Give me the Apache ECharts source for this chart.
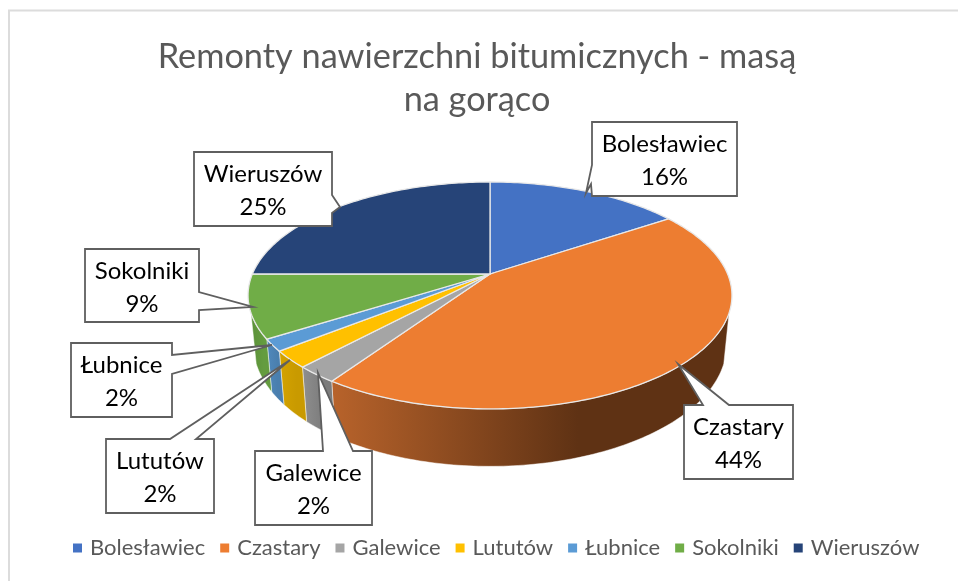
<!DOCTYPE html>
<html>
<head>
<meta charset="utf-8">
<style>
  html, body { margin: 0; padding: 0; background: #fff; }
  #main { width: 958px; height: 581px; }
</style>
<script src="https://cdn.jsdelivr.net/npm/echarts@6/dist/echarts.min.js"></script>
</head>
<body>
<div id="main"></div>
<script>
var titleText = 'Remonty nawierzchni bitumicznych - masą\nna gorąco';
var categories = ['Bolesławiec', 'Czastary', 'Galewice', 'Lututów', 'Łubnice', 'Sokolniki', 'Wieruszów'];
var values = [15.6, 43.9, 2.4, 2.4, 1.7, 9.0, 25.0];
var topColors = ['#4472C4', '#ED7D31', '#A5A5A5', '#FFC000', '#5B9BD5', '#70AD47', '#264478'];
var wallColors = [
  ['#3a5fa5', '#3a5fa5'],
  ['#b8632b', '#5f3214'],
  ['#8f8f8f', '#7c7c7c'],
  ['#d4a300', '#c99a00'],
  ['#5089bd', '#4a7fae'],
  ['#5b9139', '#649c3f'],
  ['#1f3a66', '#1f3a66']
];

// callout boxes: box [x0, y0, x1, y1], wedge base a, tip, wedge base b
var callouts = [
  { box: [592, 122, 737, 196], a: [592, 165], tip: [586, 193], b: [591, 184] },
  { box: [684, 405, 793, 479], a: [703, 405], tip: [678, 364], b: [729, 405] },
  { box: [255, 451, 372, 525], a: [323, 451], tip: [318, 373], b: [353, 451] },
  { box: [106, 439, 214, 513], a: [170, 439], tip: [290, 360], b: [196, 439] },
  { box: [71, 343, 172, 417], a: [172, 355], tip: [272, 345], b: [172, 374] },
  { box: [85, 249, 199, 322], a: [199, 292], tip: [253, 307], b: [199, 310] },
  { box: [194, 152, 332, 226], a: [332, 195], tip: [340, 207], b: [332, 213] }
];

// tilted pie: apex, radius, foreshortening and perspective of the disc
var cx = 490, cy = 274, R = 237.6, S = 109.4, K = 0.189;
// lower rim of the wall relative to the top rim
var lowX = 0.978, lowY = 1.07, lowShift = 48;
// wall only shows between these angles (degrees clockwise from 12 o'clock)
var wallFrom = 109.5, wallTo = 250.5;

var total = values.reduce(function (a, b) { return a + b; }, 0);

function rim(deg, low) {
  var t = deg * Math.PI / 180;
  var d = 1 + K * Math.cos(t);
  var x = R * Math.sin(t) / d;
  var y = -S * Math.cos(t) / d;
  if (low) {
    x *= lowX;
    y = y * lowY + lowShift;
  }
  return [cx + x, cy + y];
}

function arc(from, to, low) {
  var pts = [];
  var n = Math.max(2, Math.ceil(Math.abs(to - from)));
  for (var i = 0; i <= n; i++) {
    pts.push(rim(from + (to - from) * i / n, low));
  }
  return pts;
}

function sliceAngles(idx) {
  var before = 0;
  for (var i = 0; i < idx; i++) before += values[i];
  return [before / total * 360, (before + values[idx]) / total * 360];
}

function makeRender(idx) {
  return function (params, api) {
    var angles = sliceAngles(idx);
    var children = [];

    // outer wall
    var from = Math.max(angles[0], wallFrom);
    var to = Math.min(angles[1], wallTo);
    if (to > from) {
      children.push({
        type: 'polygon',
        z2: 1,
        shape: { points: arc(from, to, false).concat(arc(to, from, true)) },
        style: {
          fill: new echarts.graphic.LinearGradient(0, 0, 1, 0, [
            { offset: 0, color: wallColors[idx][0] },
            { offset: 0.62, color: wallColors[idx][1] },
            { offset: 1, color: wallColors[idx][1] }
          ]),
          stroke: 'rgba(255,255,255,0.6)',
          lineWidth: 0.8
        }
      });
    }

    // top face
    children.push({
      type: 'polygon',
      z2: 2,
      shape: { points: [[cx, cy]].concat(arc(angles[0], angles[1], false)) },
      style: { fill: topColors[idx], stroke: '#e8e8e8', lineWidth: 1.3 }
    });

    // callout with name and percentage
    var c = callouts[idx];
    var b = c.box;
    var pts = [[b[0], b[1]], [b[2], b[1]], [b[2], b[3]], [b[0], b[3]]];
    var outline;
    if (c.a[1] === b[1]) {
      outline = [pts[0], c.a, c.tip, c.b, pts[1], pts[2], pts[3]];
    } else if (c.a[0] === b[2]) {
      outline = [pts[0], pts[1], c.a, c.tip, c.b, pts[2], pts[3]];
    } else {
      outline = [pts[0], pts[1], pts[2], pts[3], c.b, c.tip, c.a];
    }
    children.push({
      type: 'polygon',
      z2: 3,
      shape: { points: outline },
      style: { fill: '#fff', stroke: '#5f5f5f', lineWidth: 1.8 }
    });
    var pct = Math.round(api.value(0) / total * 100);
    children.push({
      type: 'text',
      z2: 4,
      style: {
        x: (b[0] + b[2]) / 2,
        y: (b[1] + b[3]) / 2 + 2,
        text: categories[idx] + '\n' + pct + '%',
        fill: '#000',
        font: '24px Lato',
        lineHeight: 33,
        align: 'center',
        verticalAlign: 'middle'
      }
    });
    return { type: 'group', children: children };
  };
}

var seriesList = categories.map(function (name, i) {
  return {
    type: 'custom',
    name: name,
    coordinateSystem: 'none',
    silent: true,
    animation: false,
    itemStyle: { color: topColors[i] },
    data: [[values[i]]],
    renderItem: makeRender(i)
  };
});

var chart = echarts.init(document.getElementById('main'));
chart.setOption({
  animation: false,
  backgroundColor: '#fff',
  title: {
    text: titleText,
    left: 472,
    top: 30.5,
    textAlign: 'center',
    textStyle: { color: '#595959', fontFamily: 'Lato', fontSize: 34.3, fontWeight: 'normal', lineHeight: 43 }
  },
  legend: {
    left: 68,
    top: 532,
    icon: 'rect',
    itemWidth: 9,
    itemHeight: 9,
    itemGap: 15,
    selectedMode: false,
    textStyle: { color: '#595959', fontFamily: 'Lato', fontSize: 22, padding: [0, 0, 0, 3] },
    data: categories
  },
  graphic: [{
    type: 'polyline',
    z: -1,
    silent: true,
    shape: { points: [[9, 581], [9, 10.5], [958, 10.5]] },
    style: { fill: 'none', stroke: '#dcdcdc', lineWidth: 2 }
  }],
  series: seriesList
});
</script>
</body>
</html>
